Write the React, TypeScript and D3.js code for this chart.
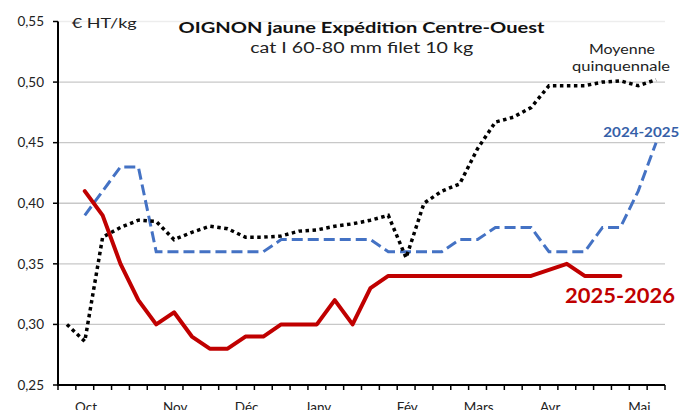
import React from "react";
import * as d3 from "d3";

const weeks: number[] = [39,40,41,42,43,44,45,46,47,48,49,50,51,52,1,2,3,4,5,6,7,8,9,10,11,12,13,14,15,16,17,18,19,20];
const monthWeeks: number[] = [40,45,49,1,6,10,14,19];
const monthNames: string[] = ["Oct","Nov","Déc","Janv","Fév","Mars","Avr","Mai"];
const yTicks: number[] = [0.25,0.30,0.35,0.40,0.45,0.50,0.55];

const moyenne: (number|null)[] = [0.30,0.286,0.372,0.38,0.386,0.385,0.37,0.376,0.381,0.379,0.372,0.372,0.373,0.377,0.378,0.381,0.383,0.386,0.39,0.355,0.40,0.41,0.416,0.445,0.467,0.471,0.479,0.497,0.497,0.497,0.50,0.501,0.497,0.502];
const s2024: (number|null)[] = [null,0.39,0.41,0.43,0.43,0.36,0.36,0.36,0.36,0.36,0.36,0.36,0.37,0.37,0.37,0.37,0.37,0.37,0.36,0.36,0.36,0.36,0.37,0.37,0.38,0.38,0.38,0.36,0.36,0.36,0.38,0.38,0.41,0.45];
const s2025: (number|null)[] = [null,0.41,0.39,0.35,0.32,0.30,0.31,0.29,0.28,0.28,0.29,0.29,0.30,0.30,0.30,0.32,0.30,0.33,0.34,0.34,0.34,0.34,0.34,0.34,0.34,0.34,0.34,0.345,0.35,0.34,0.34,0.34,null,null];

const FONT = "Lato, 'Open Sans', sans-serif";

export default function App() {
  const W = 681, H = 410;
  const left = 58, right = 665, top = 21.5, bottom = 385;
  const x = d3.scaleBand<number>().domain(d3.range(weeks.length)).range([left, right]).padding(0);
  const y = d3.scaleLinear().domain([0.25, 0.55]).range([bottom, top]);
  const cx = (i: number) => (x(i) as number) + x.bandwidth() / 2;

  const line = d3.line<number|null>()
    .defined((d) => d !== null)
    .x((_, i) => cx(i))
    .y((d) => y(d as number));

  const boundaries = d3.range(weeks.length + 1).map((i) => left + i * x.bandwidth());

  return (
    <svg width={W} height={H} style={{ position: "absolute", left: 0, top: 0, background: "#fff" }} fontFamily={FONT}>
      <rect x={0} y={0} width={W} height={H} fill="#fff" />
      {yTicks.filter((t) => t > 0.25).map((t) => (
        <line key={"g" + t} x1={left} x2={right} y1={y(t)} y2={y(t)} stroke={t > 0.52 ? "#EDEDED" : "#C8C8C8"} strokeWidth={1.3} />
      ))}
      {/* title box */}
      <text x={361.5} y={33.3} textAnchor="middle" fontSize={15} fontWeight="bold" fill="#111" textLength={366} lengthAdjust="spacingAndGlyphs">OIGNON jaune Expédition Centre-Ouest</text>
      <text x={361.7} y={53.3} textAnchor="middle" fontSize={15.5} fill="#222" textLength={223} lengthAdjust="spacingAndGlyphs">cat I 60-80 mm filet 10 kg</text>
      <text x={71.7} y={28.3} fontSize={14} fill="#222" textLength={65} lengthAdjust="spacingAndGlyphs">€ HT/kg</text>

      {/* axes */}
      <line x1={left} x2={left} y1={top} y2={bottom} stroke="#000" strokeWidth={2} />
      <line x1={left - 1} x2={right} y1={bottom} y2={bottom} stroke="#000" strokeWidth={2} />
      {yTicks.map((t) => (
        <g key={"yt" + t}>
          <line x1={left - 5} x2={left} y1={y(t)} y2={y(t)} stroke="#000" strokeWidth={1.5} />
          <text x={44} y={y(t)} dy="0.35em" textAnchor="end" fontSize={13.5} fill="#222">{t.toFixed(2).replace(".", ",")}</text>
        </g>
      ))}
      {boundaries.map((b, i) => (
        <line key={"xt" + i} x1={b} x2={b} y1={bottom} y2={bottom + 5} stroke="#000" strokeWidth={1.5} />
      ))}
      {monthNames.map((m, k) => {
        const i = weeks.indexOf(monthWeeks[k]);
        return (
          <text key={m} x={cx(i) + 1.2} y={411.5} textAnchor="middle" fontSize={13.5} fill="#222">{m}</text>
        );
      })}

      {/* series */}
      <path d={line(s2024) || ""} fill="none" stroke="#4472C4" strokeWidth={3} strokeDasharray="11,5" />
      <path d={line(moyenne) || ""} fill="none" stroke="#000" strokeWidth={3.5} strokeDasharray="3.5,3.5" />
      <path d={line(s2025) || ""} fill="none" stroke="#C00000" strokeWidth={4} strokeLinejoin="round" strokeLinecap="round" />

      {/* labels */}
      <text x={622} y={53.5} textAnchor="middle" fontSize={13.5} fill="#222" textLength={66} lengthAdjust="spacingAndGlyphs">Moyenne</text>
      <text x={621} y={70.5} textAnchor="middle" fontSize={13.5} fill="#222" textLength={98} lengthAdjust="spacingAndGlyphs">quinquennale</text>
      <text x={603.3} y={136.7} fontSize={13} fontWeight="bold" fill="#3660A8" textLength={76} lengthAdjust="spacingAndGlyphs">2024-2025</text>
      <text x={565} y={303.3} fontSize={20} fontWeight="bold" fill="#C00000" textLength={110} lengthAdjust="spacingAndGlyphs">2025-2026</text>
    </svg>
  );
}
